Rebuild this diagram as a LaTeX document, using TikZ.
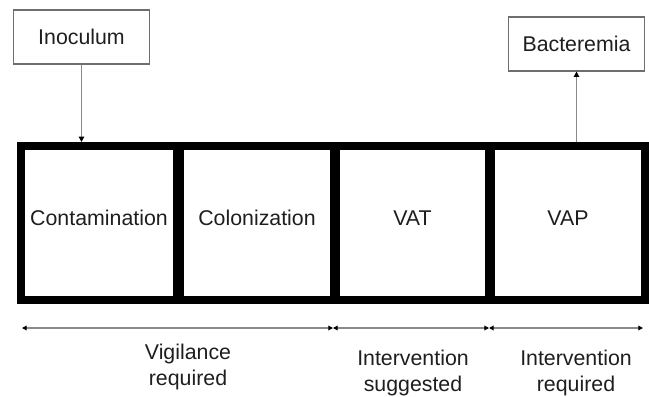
\documentclass[tikz,border=0pt]{standalone}
\usepackage{fontspec}
\setmainfont{Liberation Sans}
\usetikzlibrary{arrows.meta}
\definecolor{txt}{HTML}{1E1E1E}
\definecolor{ln}{HTML}{8A8A8A}
\definecolor{bx}{HTML}{6E6E6E}
\begin{document}
\begin{tikzpicture}[x=0.75pt,y=-0.75pt,
  lbl/.style={font=\fontsize{16}{19.5}\selectfont, text=txt, align=center, inner sep=0pt},
  stage/.style={draw=black, line width=6pt, rectangle, inner sep=0pt, minimum height=115.5pt},
  topbox/.style={draw=bx, line width=0.8pt, rectangle, inner sep=0pt, minimum width=101.5pt, minimum height=40.5pt, font=\fontsize{16}{19.5}\selectfont, text=txt},
  conn/.style={draw=ln, line width=1.1pt, -{Triangle[length=4pt,width=4pt,color=black]}},
  spanarr/.style={draw=ln, line width=1.3pt, {Triangle[length=3.5pt,width=3.5pt,color=black]}-{Triangle[length=3.5pt,width=3.5pt,color=black]}}]
\useasboundingbox (0,0) rectangle (649,396);
% stage boxes
\node[stage, minimum width=117pt]   (b1) at (99,223) {};
\node[stage, minimum width=115.5pt] (b2) at (257,223) {};
\node[stage, minimum width=114.75pt] (b3) at (412.5,223) {};
\node[stage, minimum width=115.5pt] (b4) at (568,223) {};
\node[lbl] (t1) at (99,218) {Contamination};
\node[lbl] (t2) at (257,218) {Colonization};
\node[lbl] (t3) at (412.5,218) {VAT};
\node[lbl] (t4) at (568,218) {VAP};
% top boxes
\node[topbox] (inoc) at (81.5,37) {Inoculum};
\node[topbox] (bact) at (576.5,44) {Bacteremia};
\draw[conn] (inoc.south) -- (inoc.south |- b1.north);
\draw[conn] (b4.north -| bact.south) -- (bact.south);
% span arrows
\coordinate (s0) at (22,328);
\coordinate (s1) at (333,328);
\coordinate (s2) at (489,328);
\coordinate (s3) at (643,328);
\draw[spanarr] (s0) -- (s1);
\draw[spanarr] (s1) -- (s2);
\draw[spanarr] (s2) -- (s3);
\node[lbl] (v) at (188,366.5) {Vigilance\\required};
\node[lbl] (is) at (413,372.5) {Intervention\\suggested};
\node[lbl] (ir) at (576,372.5) {Intervention\\required};
\end{tikzpicture}
\end{document}
